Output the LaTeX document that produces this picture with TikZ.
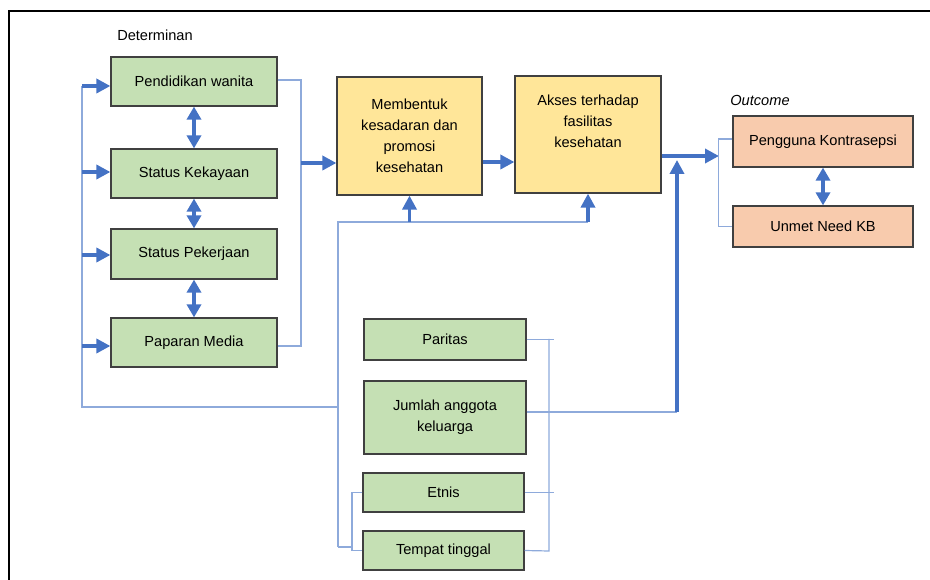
\documentclass[tikz,border=0pt]{standalone}
\usepackage{fontspec}
\setmainfont{Liberation Sans}
\usepackage{tikz}
\usetikzlibrary{arrows.meta,calc}

\definecolor{lnBlue}{HTML}{4472C4}
\definecolor{lnLight}{HTML}{8EAADB}
\definecolor{boxGreen}{HTML}{C5E0B4}
\definecolor{boxYellow}{HTML}{FFE699}
\definecolor{boxOrange}{HTML}{F8CBAD}
\definecolor{boxEdge}{HTML}{404040}

\tikzstyle{tsText} = [
    text=black,
    font=\fontsize{14.6}{21}\selectfont
]
\tikzstyle{tsBox} = [
    rectangle,
    tsText,
    align=center,
    draw=boxEdge,
    line width=1.2pt,
    inner sep=2pt]
\tikzstyle{tsGreen} = [tsBox, fill=boxGreen]
\tikzstyle{tsYellow} = [tsBox, fill=boxYellow]
\tikzstyle{tsOrange} = [tsBox, fill=boxOrange]
\tikzstyle{tsThin} = [draw=lnLight, line width=1.2pt]
\tikzstyle{tsThick} = [
    draw=lnBlue,
    line width=3.5pt,
    -{Triangle[length=14pt,width=14pt]}]
\tikzstyle{tsBoth} = [
    draw=lnBlue,
    line width=3.5pt,
    {Triangle[length=13pt,width=14pt]}-{Triangle[length=13pt,width=14pt]}]

\begin{document}
\begin{tikzpicture}[x=1pt, y=-1pt]

        \useasboundingbox (0,0) rectangle (930,580);
        \draw[black, line width=2pt] (9,580) -- (9,11) -- (930,11);

        % labels
        \node[tsText] (lblDet) at (155,35) {Determinan};
        \node[tsText, font=\fontsize{14.6}{21}\selectfont\itshape] (lblOut) at (760,100) {Outcome};

        % determinan
        \node[tsGreen, minimum width=166pt, minimum height=49pt] (pend)  at (194,81.5)  {Pendidikan wanita};
        \node[tsGreen, minimum width=166pt, minimum height=49pt] (kaya)  at (194,173.5) {Status Kekayaan};
        \node[tsGreen, minimum width=166pt, minimum height=50pt] (kerja) at (194,254)   {Status Pekerjaan};
        \node[tsGreen, minimum width=166pt, minimum height=49pt] (media) at (194,342.5) {Paparan Media};

        % antara
        \node[tsYellow, minimum width=145pt, minimum height=118pt] (bentuk) at (409.5,136)
            {Membentuk\\kesadaran dan\\promosi\\kesehatan};
        \node[tsYellow, minimum width=146pt, minimum height=117pt] (akses) at (588,134.5)
            {Akses terhadap\\fasilitas\\kesehatan\\ \strut};

        % outcome
        \node[tsOrange, minimum width=180pt, minimum height=51pt] (guna)  at (823,141.5) {Pengguna Kontrasepsi};
        \node[tsOrange, minimum width=180pt, minimum height=41pt] (unmet) at (823,226.5) {Unmet Need KB};

        % faktor lain
        \node[tsGreen, minimum width=162pt, minimum height=41pt] (paritas) at (445,339.5) {Paritas};
        \node[tsGreen, minimum width=162pt, minimum height=73pt] (jumlah)  at (445,417.5) {Jumlah anggota\\keluarga};
        \node[tsGreen, minimum width=161pt, minimum height=39pt] (etnis)   at (443.5,492.5) {Etnis};
        \node[tsGreen, minimum width=161pt, minimum height=39pt] (tinggal) at (443.5,550.5) {Tempat tinggal};

        % coordinates of the buses
        \coordinate (lb1) at (82,86);
        \coordinate (lb2) at (82,172);
        \coordinate (lb3) at (82,255);
        \coordinate (lb4) at (82,346);
        \coordinate (lb5) at (82,407);
        \coordinate (rb1) at (301,80);
        \coordinate (rb2) at (301,163);
        \coordinate (rb3) at (301,346);
        \coordinate (mb1) at (338,222);
        \coordinate (mb2) at (338,407);
        \coordinate (mb3) at (338,547);
        \coordinate (eb1) at (352,547);
        \coordinate (kb1) at (549,339);
        \coordinate (kb2) at (549,551);
        \coordinate (up1) at (677,412);
        \coordinate (ob1) at (719,156);

        % left bus
        \draw[tsThin] (lb1) -- (lb5) -- (mb2);
        \draw[tsThick] (lb1) -- (lb1 -| pend.west);
        \draw[tsThick] (lb2) -- (lb2 -| kaya.west);
        \draw[tsThick] (lb3) -- (lb3 -| kerja.west);
        \draw[tsThick] (lb4) -- (lb4 -| media.west);

        % between determinan
        \draw[tsBoth] (pend.south)  -- (kaya.north);
        \draw[tsBoth] (kaya.south)  -- (kerja.north);
        \draw[tsBoth] (kerja.south) -- (media.north);

        % right bus
        \draw[tsThin] (rb1 -| pend.east) -- (rb1) -- (rb3) -- (rb3 -| media.east);
        \draw[tsThick] (rb2) -- (rb2 -| bentuk.west);
        \draw[tsThick] ($(bentuk.east)+(0,26)$) -- ($(akses.west)+(0,27.5)$);

        % middle bus
        \draw[tsThin] (mb3) -- (mb1) -- (mb1 -| akses.south);
        \draw[tsThick] (mb1 -| bentuk.south) -- (bentuk.south);
        \draw[tsThick] (mb1 -| akses.south) -- (akses.south);
        \draw[tsThin] (mb3) -- (eb1);
        \draw[tsThin] (etnis.west) -- (etnis.west -| eb1) -- (tinggal.west -| eb1) -- (tinggal.west);

        % right bracket of faktor lain
        \draw[tsThin] (paritas.east) -- ++(27,0);
        \draw[tsThin] (etnis.east) -- ++(29,0);
        \draw[tsThin] (kb1) -- (kb2) -- (tinggal.east);
        \draw[tsThin] (jumlah.east |- up1) -- (up1);
        \draw[tsThick] (up1) -- (677,160);

        % to outcome
        \draw[tsThick] ($(akses.east)+(0,21.5)$) -- (ob1);
        \draw[tsThin] ($(guna.west)+(0,-2.5)$) -- ++(-14,0) |- (unmet.west);
        \draw[tsBoth] (guna.south) -- (unmet.north);

\end{tikzpicture}
\end{document}
